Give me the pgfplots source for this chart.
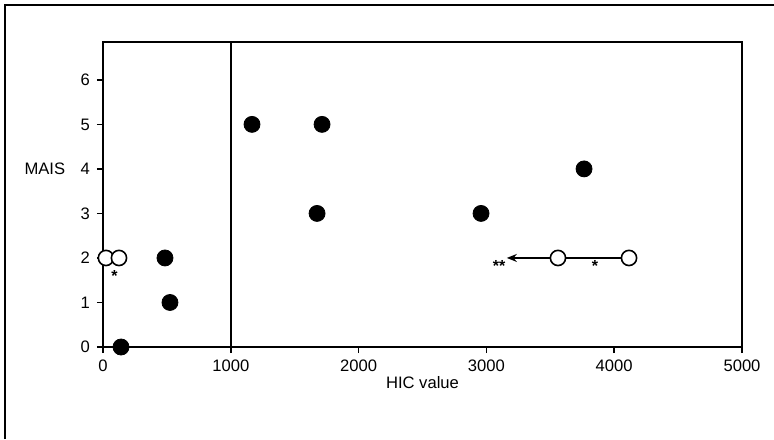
\documentclass[border=0pt]{standalone}
\usepackage{fontspec}
\setmainfont{Liberation Sans}
\usepackage{pgfplots}
\pgfplotsset{compat=1.18}
\usetikzlibrary{arrows.meta}

\begin{document}
\begin{tikzpicture}
% page size and outer frame (1 px of the reference = 0.5pt)
\path[use as bounding box] (-51.5pt,-46pt) rectangle (335.5pt,173.5pt);
\draw[line width=1pt] (-49pt,-46pt) -- (-49pt,171pt) -- (335.5pt,171pt);
\begin{axis}[
    at={(0,0)}, anchor=origin,
    scale only axis,
    width=319.5pt, height=152.5pt,
    xmin=0, xmax=5000,
    ymin=0, ymax=6.85,
    xtick={0,1000,2000,3000,4000,5000},
    ytick={0,1,2,3,4,5,6},
    tick pos=left,
    tick align=outside,
    major tick length=3pt,
    axis line style={line width=1pt},
    tick style={line width=0.8pt, black},
    scaled x ticks=false,
    /pgf/number format/assume math mode=true,
    /pgf/number format/set thousands separator={},
    tick label style={font=\fontsize{8.3}{10}\selectfont},
    label style={font=\fontsize{8.3}{10}\selectfont},
    xlabel={HIC value},
    ylabel={MAIS},
    xlabel style={at={(axis description cs:0.5,-0.115)}, anchor=center},
    ylabel style={at={(axis description cs:-0.091,0.584)}, anchor=center, rotate=-90},
    clip=false,
]
% threshold line at HIC 1000
\draw[line width=0.8pt] (axis cs:1000,0) -- (axis cs:1000,6.85);

% HIC range with arrow (open circles)
\addplot[black, line width=0.8pt, mark=none] coordinates {(3560,2) (4116,2)};
\addplot[black, line width=0.8pt, mark=none, -{Stealth[length=5pt,width=4pt]}] coordinates {(3560,2) (3160,2)};

% filled circles
\addplot[only marks, mark=*, mark size=4pt, black, mark options={fill=black}] coordinates {
    (141,0) (485,2) (524,1) (1166,5) (1714,5) (1675,3) (2958,3) (3764,4)
};

% open circles
\addplot[only marks, mark=*, mark size=3.8pt, black, mark options={fill=white, line width=0.8pt}] coordinates {
    (23,2) (125,2) (3560,2) (4116,2)
};

\node[font=\fontsize{8}{9}\selectfont\bfseries] at (axis cs:90,1.6) {*};
\node[font=\fontsize{8}{9}\selectfont\bfseries, inner sep=0pt] at (axis cs:3100,1.83) {**};
\node[font=\fontsize{8}{9}\selectfont\bfseries] at (axis cs:3850,1.82) {*};
\end{axis}
\end{tikzpicture}
\end{document}
